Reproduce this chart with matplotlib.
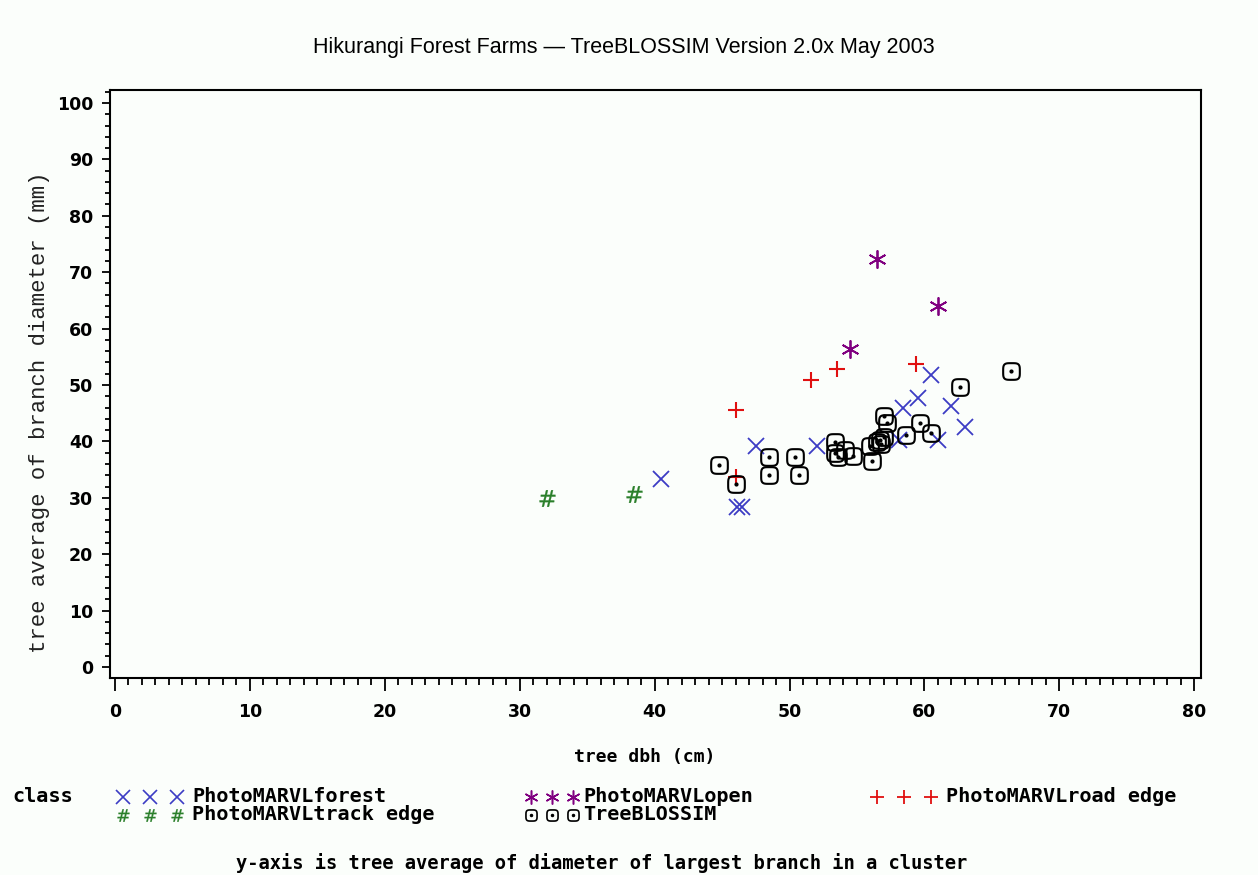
import matplotlib
matplotlib.use("Agg")
import matplotlib.pyplot as plt
import numpy as np
from matplotlib.path import Path
from matplotlib.ticker import MultipleLocator

# data: tree dbh (cm) vs branch diameter (mm)
forest_x = [40.5, 46.1, 46.5, 47.5, 52.0, 58.1, 58.4, 59.5, 60.5, 61.0, 62.0, 63.0]
forest_y = [33.3, 28.4, 28.4, 39.1, 39.1, 40.2, 46.0, 47.7, 51.7, 40.2, 46.2, 42.5]

open_x = [54.5, 56.5, 61.0]
open_y = [56.4, 72.3, 64.0]

road_x = [46.0, 46.0, 51.6, 53.5, 59.4]
road_y = [33.6, 45.6, 50.9, 52.8, 53.7]

track_x = [32.0, 38.5]
track_y = [30.0, 30.7]

tb_x = [44.8, 46.0, 48.5, 48.5, 50.4, 50.7, 53.4, 53.6, 54.1, 54.7, 53.4, 56.0,
        56.1, 57.0, 57.2, 56.7, 57.0, 56.5, 56.8, 58.6, 59.7, 60.5, 62.6, 66.4]
tb_y = [35.8, 32.4, 37.2, 34.0, 37.2, 34.0, 39.9, 37.3, 38.5, 37.4, 37.9, 39.1,
        36.6, 44.5, 43.3, 40.2, 40.8, 39.9, 39.5, 41.1, 43.2, 41.5, 49.6, 52.4]

c_blue = "#3c3cc4"
c_purple = "#800080"
c_red = "#e01010"
c_green = "#2a7f2a"

# rounded square glyph like the SAS one
t = np.linspace(0, 2 * np.pi, 80)
sq = np.column_stack([np.sign(np.cos(t)) * np.abs(np.cos(t)) ** 0.5,
                      np.sign(np.sin(t)) * np.abs(np.sin(t)) ** 0.5])
rsq = Path(sq, closed=True)

bg = "#fbfefb"
fig = plt.figure(figsize=(12.58, 8.75), dpi=100, facecolor=bg)
ax = fig.add_axes([110 / 1258, 197 / 875, 1091 / 1258, 588 / 875])
ax.set_facecolor(bg)

ax.plot(forest_x, forest_y, ls="none", marker="x", ms=11.5, mew=1.3, color=c_blue)
ax.plot(open_x, open_y, ls="none", marker=(6, 2, 0), ms=13, mew=1.3, color=c_purple)
ax.plot(road_x, road_y, ls="none", marker="+", ms=11, mew=1.5, color=c_red)
ax.plot(track_x, track_y, ls="none", marker="$\\#$", ms=12, mew=0.2, color=c_green)
ax.plot(tb_x, tb_y, ls="none", marker=rsq, ms=12, mew=1.5, mfc="none", mec="black")
ax.plot(tb_x, tb_y, ls="none", marker="o", ms=2, color="black")

ax.set_xlim(-0.37, 80.5)
ax.set_ylim(-1.95, 102.3)
ax.xaxis.set_major_locator(MultipleLocator(10))
ax.xaxis.set_minor_locator(MultipleLocator(1))
ax.yaxis.set_major_locator(MultipleLocator(10))
ax.yaxis.set_minor_locator(MultipleLocator(2))
ax.tick_params(which="both", direction="out", width=1.3, color="black")
ax.tick_params(axis="x", which="major", length=9, pad=9)
ax.tick_params(axis="x", which="minor", length=5)
ax.tick_params(axis="y", which="major", length=6, pad=6)
ax.tick_params(axis="y", which="minor", length=3.5)
for lab in ax.get_xticklabels() + ax.get_yticklabels():
    lab.set_fontweight("bold")
    lab.set_fontsize(12.5)
for s in ax.spines.values():
    s.set_linewidth(1.5)

fig.text(624 / 1258, 1 - 48 / 875, "Hikurangi Forest Farms \u2014 TreeBLOSSIM Version 2.0x May 2003",
         ha="center", va="center", fontsize=15.5, family="Liberation Sans")
fig.text(40 / 1258, 1 - 412 / 875, "tree average of branch diameter (mm)", rotation=90,
         ha="center", va="center", fontsize=16, family="Liberation Mono", color="#222222")
fig.text(645 / 1258, 1 - 757 / 875, "tree dbh (cm)", ha="center", va="center",
         fontsize=13, family="DejaVu Sans Mono", fontweight="bold")

# legend drawn by hand in pixel coordinates
lg = fig.add_axes([0, 0, 1, 1])
lg.set_xlim(0, 1258)
lg.set_ylim(875, 0)
lg.axis("off")
lfont = dict(fontsize=14.5, family="DejaVu Sans Mono", fontweight="bold", va="center")
lg.text(12, 797, "class", **lfont)
entries = [
    (119, 797, dict(marker="x", ms=10, mew=1.2, color=c_blue), "PhotoMARVLforest"),
    (527, 797, dict(marker=(6, 2, 0), ms=10, mew=1.1, color=c_purple), "PhotoMARVLopen"),
    (873, 797, dict(marker="+", ms=10, mew=1.3, color=c_red), "PhotoMARVLroad edge"),
    (119, 815, dict(marker="$\\#$", ms=9, mew=0.2, color=c_green), "PhotoMARVLtrack edge"),
    (527, 815, dict(marker=rsq, ms=8, mew=1.2, mfc="none", mec="black"), "TreeBLOSSIM"),
]
for x0, y0, mk, name in entries:
    step = 27 if x0 != 527 else 21
    lg.plot([x0 + 4, x0 + 4 + step, x0 + 4 + 2 * step], [y0] * 3, ls="none", **mk)
    lg.text(x0 + 73 if x0 != 527 else x0 + 56, y0, name, **lfont)
lg.plot([531, 552, 573], [815] * 3, ls="none", marker="o", ms=1.5, color="black")

fig.text(602 / 1258, 1 - 863 / 875,
         "y-axis is tree average of diameter of largest branch in a cluster",
         ha="center", va="center", fontsize=13.5, family="DejaVu Sans Mono", fontweight="bold")

fig.savefig("out.png", dpi=100, facecolor=bg)
